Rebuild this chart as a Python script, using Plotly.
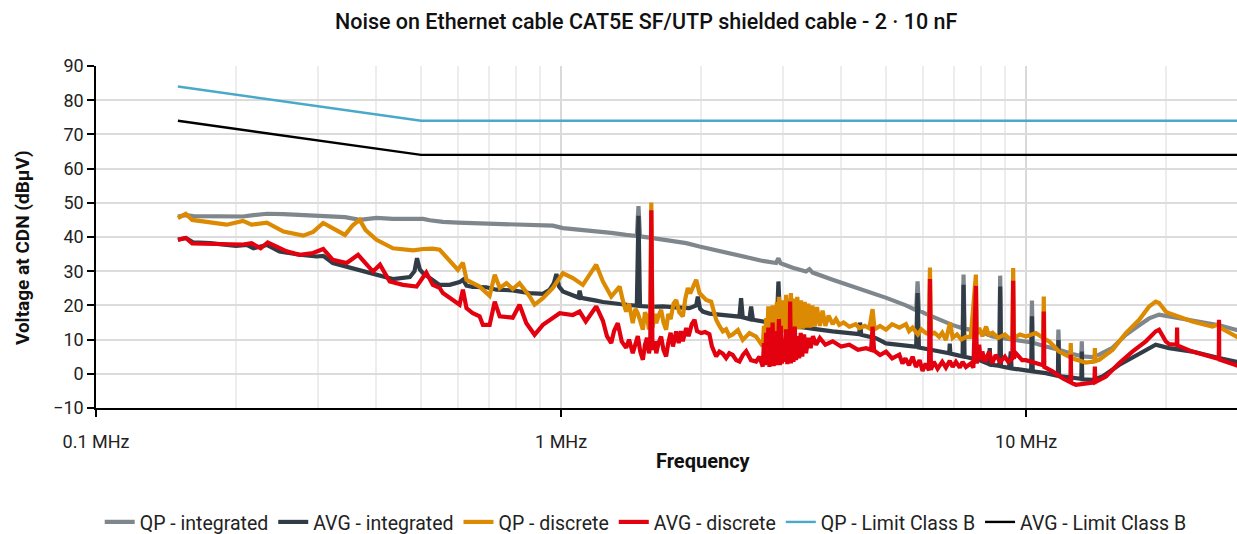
import plotly.graph_objects as go

# ---- measured spectra (frequency in MHz, level in dBµV) ----
qp_int_mhz = [0.150, 0.156, 0.162, 0.176, 0.191, 0.207, 0.218, 0.233, 0.253, 0.279, 0.308, 0.343,
              0.369, 0.401, 0.435, 0.473, 0.505, 0.522, 0.557, 0.600, 0.668, 0.702, 0.763, 0.842,
              0.914, 0.960, 1.009, 1.096, 1.190, 1.282, 1.380, 1.455, 1.467, 1.478, 1.549, 1.641,
              1.768, 1.858, 1.984, 2.102, 2.264, 2.418, 2.562, 2.714, 2.900, 2.933, 2.965, 3.148,
              3.363, 3.420, 3.475, 3.836, 4.024, 4.378, 5.003, 5.515, 5.800, 5.841, 5.880, 6.089,
              6.721, 6.934, 7.300, 7.334, 7.370, 7.925, 8.464, 8.760, 8.792, 8.830, 9.377, 9.986,
              10.25, 10.29, 10.33, 11.02, 11.70, 11.73, 11.77, 12.57, 13.14, 13.17, 13.20, 13.88,
              14.35, 15.33, 16.38, 17.50, 18.38, 19.31, 20.29, 21.11, 22.77, 24.73, 26.00, 28.22, 28.60]
qp_int_dbuv = [46.0, 46.4, 46.1, 46.0, 46.2, 46.0, 46.4, 46.8, 46.7, 46.4, 46.3, 45.8,
               45.0, 45.6, 45.3, 45.4, 45.3, 44.9, 44.4, 44.2, 44.0, 44.1, 43.8, 43.7,
               43.6, 43.3, 42.6, 42.2, 41.7, 41.2, 40.6, 40.3, 49.0, 40.2, 39.8, 39.3,
               38.5, 38.2, 37.2, 36.5, 35.3, 34.6, 33.8, 33.0, 32.4, 33.8, 32.3, 31.0,
               29.9, 30.6, 29.6, 27.5, 26.6, 24.8, 22.2, 20.0, 18.6, 27.0, 18.5, 17.5,
               15.0, 14.3, 13.3, 29.0, 13.2, 12.4, 10.9, 10.6, 28.7, 10.5, 10.0, 9.5,
               9.2, 21.4, 9.1, 8.0, 7.1, 12.9, 7.0, 5.8, 5.2, 9.5, 5.1, 4.9,
               5.6, 7.6, 11.4, 14.2, 16.2, 17.3, 16.8, 16.3, 15.6, 14.8, 14.2, 12.9, 12.7]

avg_int_mhz = [0.150, 0.156, 0.162, 0.176, 0.200, 0.211, 0.218, 0.233, 0.248, 0.274, 0.298, 0.308,
               0.323, 0.357, 0.401, 0.435, 0.473, 0.484, 0.490, 0.497, 0.505, 0.530, 0.548, 0.576,
               0.605, 0.615, 0.626, 0.646, 0.691, 0.726, 0.787, 0.856, 0.914, 0.945, 0.965, 0.977,
               0.990, 1.009, 1.060, 1.090, 1.096, 1.105, 1.190, 1.230, 1.336, 1.426, 1.455, 1.467,
               1.478, 1.563, 1.655, 1.768, 1.888, 1.952, 1.968, 1.990, 2.017, 2.084, 2.190, 2.339,
               2.418, 2.438, 2.458, 2.541, 2.562, 2.585, 2.714, 2.829, 2.910, 2.933, 2.960, 3.148,
               3.363, 3.592, 3.836, 4.166, 4.378, 4.393, 4.420, 4.675, 4.755, 4.996, 5.336, 5.698,
               5.800, 5.841, 5.880, 6.291, 6.721, 6.832, 6.850, 6.870, 7.180, 7.300, 7.334, 7.370,
               7.925, 8.192, 8.327, 8.350, 8.380, 8.760, 8.792, 8.830, 9.192, 9.270, 9.300, 9.986,
               10.25, 10.29, 10.33, 11.02, 11.70, 11.73, 11.77, 12.37, 13.14, 13.17, 13.20, 13.88,
               14.59, 15.84, 17.50, 18.99, 20.29, 22.77, 25.98, 28.22, 28.60]
avg_int_dbuv = [39.2, 39.7, 38.4, 38.2, 37.4, 37.7, 36.7, 37.7, 35.8, 34.8, 34.3, 34.5,
                32.4, 30.9, 29.2, 27.7, 28.3, 30.0, 33.8, 30.5, 29.4, 27.5, 26.0, 26.0,
                26.8, 27.5, 25.8, 25.4, 25.3, 24.6, 24.4, 23.6, 23.4, 24.6, 26.5, 29.2,
                25.5, 24.1, 23.0, 22.3, 24.3, 22.2, 21.4, 21.0, 20.4, 20.0, 19.9, 46.2,
                19.8, 19.6, 19.7, 19.4, 19.2, 20.0, 22.6, 19.0, 18.2, 17.6, 17.3, 16.9,
                16.7, 22.1, 16.5, 16.0, 19.7, 15.8, 15.2, 14.8, 14.6, 27.0, 14.4, 14.0,
                13.3, 12.9, 12.4, 11.9, 11.6, 15.0, 11.4, 10.6, 10.4, 8.9, 8.3, 8.0,
                7.9, 23.6, 7.7, 7.0, 6.3, 6.0, 8.8, 5.9, 5.3, 5.1, 26.0, 5.0,
                4.0, 3.0, 2.8, 7.5, 2.7, 2.3, 25.5, 2.2, 1.7, 6.5, 1.6, 1.0,
                0.8, 16.8, 0.7, 0.2, -0.6, 9.9, -0.7, -1.0, -1.5, 6.5, -1.6, -1.8,
                -0.8, 2.6, 6.0, 8.5, 7.5, 6.5, 4.6, 3.6, 3.4]

qp_disc_mhz = [0.150, 0.156, 0.161, 0.176, 0.191, 0.207, 0.216, 0.233, 0.253, 0.279, 0.293, 0.308,
               0.323, 0.343, 0.357, 0.369, 0.380, 0.401, 0.435, 0.481, 0.505, 0.530, 0.548, 0.576,
               0.600, 0.615, 0.626, 0.668, 0.702, 0.720, 0.738, 0.763, 0.787, 0.814, 0.856, 0.877,
               0.914, 0.960, 1.009, 1.060, 1.114, 1.190, 1.230, 1.282, 1.336, 1.360, 1.380, 1.400,
               1.426, 1.445, 1.462, 1.480, 1.499, 1.515, 1.530, 1.545, 1.555, 1.563, 1.572, 1.590,
               1.602, 1.620, 1.641, 1.660, 1.682, 1.700, 1.720, 1.745, 1.768, 1.795, 1.827, 1.850,
               1.873, 1.895, 1.919, 1.952, 1.984, 2.051, 2.102, 2.155, 2.190, 2.227, 2.264, 2.300,
               2.339, 2.400, 2.458, 2.541, 2.626, 2.714, 2.730, 2.745, 2.760, 2.775, 2.790, 2.805,
               2.820, 2.835, 2.850, 2.865, 2.880, 2.895, 2.910, 2.925, 2.940, 2.955, 2.970, 2.985,
               3.000, 3.020, 3.047, 3.065, 3.085, 3.100, 3.120, 3.140, 3.165, 3.190, 3.220, 3.250,
               3.280, 3.310, 3.340, 3.370, 3.400, 3.430, 3.470, 3.510, 3.550, 3.600, 3.650, 3.700,
               3.760, 3.836, 3.900, 3.965, 4.050, 4.166, 4.300, 4.378, 4.500, 4.600, 4.675, 4.720,
               4.850, 4.996, 5.150, 5.336, 5.515, 5.600, 5.698, 5.850, 5.950, 6.089, 6.180, 6.210,
               6.240, 6.350, 6.500, 6.600, 6.721, 6.860, 6.950, 7.100, 7.250, 7.421, 7.600, 7.797,
               7.830, 7.925, 8.050, 8.200, 8.300, 8.464, 8.700, 9.000, 9.192, 9.340, 9.377, 9.410,
               9.700, 9.986, 10.49, 10.88, 10.91, 10.94, 11.20, 11.77, 12.45, 12.47, 12.50, 13.43,
               14.02, 14.05, 14.08, 14.35, 15.33, 16.38, 17.50, 18.38, 18.99, 19.31, 19.96, 20.29,
               22.77, 25.13, 25.98, 26.02, 28.22, 28.60]
qp_disc_dbuv = [45.5, 46.8, 45.0, 44.3, 43.6, 44.7, 43.6, 44.2, 41.6, 40.4, 41.5, 44.1,
                42.5, 40.6, 43.5, 45.0, 42.0, 39.2, 36.7, 36.1, 36.5, 36.6, 36.3, 32.8,
                30.4, 32.5, 27.5, 25.5, 22.8, 29.0, 25.1, 26.5, 24.8, 26.5, 22.6, 20.2,
                22.1, 25.1, 29.4, 28.0, 26.0, 31.9, 27.0, 22.6, 25.5, 21.0, 18.2, 20.5,
                14.8, 19.0, 17.7, 15.5, 12.9, 18.0, 16.7, 13.0, 14.5, 50.1, 13.5, 17.5,
                14.8, 17.0, 18.7, 15.0, 12.9, 17.5, 16.0, 20.5, 21.6, 18.0, 16.8, 22.0,
                25.1, 23.5, 25.5, 27.5, 23.6, 21.6, 21.1, 15.8, 14.0, 12.4, 13.0, 11.0,
                11.5, 12.8, 9.9, 11.9, 10.9, 8.0, 14.0, 10.0, 16.3, 10.5, 19.7, 11.0,
                17.0, 11.5, 20.0, 11.0, 18.0, 11.5, 21.0, 12.0, 22.5, 11.5, 20.0, 12.0,
                21.5, 12.0, 23.1, 12.5, 22.0, 12.5, 23.6, 12.8, 22.0, 13.0, 22.5, 13.0,
                21.5, 13.2, 21.0, 13.5, 20.5, 13.5, 20.0, 13.8, 19.5, 14.0, 18.5, 14.0,
                17.0, 14.5, 16.0, 14.3, 15.0, 13.8, 14.5, 13.4, 14.0, 13.3, 18.9, 13.0,
                14.0, 12.9, 14.5, 13.5, 14.5, 12.5, 13.5, 11.5, 13.0, 11.9, 11.6, 31.1,
                11.5, 12.0, 10.8, 12.0, 9.9, 14.9, 10.5, 11.5, 10.0, 10.8, 10.8, 29.0,
                11.5, 13.4, 11.0, 13.8, 11.5, 12.0, 10.5, 11.5, 10.4, 10.4, 30.9, 10.5,
                11.5, 10.9, 11.9, 10.5, 22.6, 10.2, 9.5, 6.5, 4.8, 9.0, 4.6, 3.3,
                3.6, 7.5, 3.7, 4.1, 7.0, 11.9, 15.8, 19.7, 21.1, 20.7, 18.2, 17.7,
                15.3, 13.8, 14.5, 13.6, 10.9, 10.6]

avg_disc_mhz = [0.150, 0.156, 0.161, 0.176, 0.207, 0.216, 0.226, 0.234, 0.257, 0.274, 0.293, 0.308,
                0.323, 0.346, 0.366, 0.394, 0.408, 0.428, 0.457, 0.489, 0.513, 0.530, 0.548, 0.557,
                0.605, 0.615, 0.626, 0.646, 0.668, 0.679, 0.702, 0.720, 0.738, 0.787, 0.814, 0.842,
                0.877, 0.914, 0.945, 0.993, 1.060, 1.096, 1.130, 1.190, 1.230, 1.255, 1.282, 1.300,
                1.324, 1.350, 1.380, 1.400, 1.426, 1.445, 1.462, 1.480, 1.499, 1.515, 1.530, 1.545,
                1.555, 1.563, 1.572, 1.590, 1.602, 1.620, 1.641, 1.660, 1.682, 1.700, 1.720, 1.740,
                1.768, 1.790, 1.810, 1.827, 1.858, 1.880, 1.910, 1.936, 1.960, 2.001, 2.040, 2.084,
                2.110, 2.155, 2.190, 2.227, 2.264, 2.300, 2.339, 2.380, 2.418, 2.460, 2.500, 2.560,
                2.626, 2.670, 2.714, 2.730, 2.745, 2.760, 2.775, 2.790, 2.805, 2.820, 2.835, 2.850,
                2.865, 2.880, 2.895, 2.910, 2.925, 2.940, 2.955, 2.970, 2.985, 3.000, 3.020, 3.047,
                3.065, 3.085, 3.100, 3.108, 3.120, 3.140, 3.160, 3.180, 3.200, 3.225, 3.250, 3.275,
                3.300, 3.330, 3.363, 3.400, 3.440, 3.480, 3.534, 3.600, 3.700, 3.836, 4.000, 4.166,
                4.350, 4.526, 4.640, 4.675, 4.710, 4.850, 4.996, 5.150, 5.336, 5.420, 5.500, 5.600,
                5.698, 5.794, 5.900, 5.987, 6.080, 6.180, 6.210, 6.240, 6.330, 6.450, 6.600, 6.721,
                6.850, 6.950, 7.063, 7.200, 7.300, 7.421, 7.600, 7.700, 7.797, 7.830, 7.880, 7.925,
                7.980, 8.050, 8.150, 8.250, 8.327, 8.450, 8.600, 8.800, 9.000, 9.150, 9.340, 9.377,
                9.410, 9.500, 9.660, 9.800, 9.986, 10.49, 10.88, 10.91, 10.94, 11.39, 11.97, 12.45,
                12.47, 12.50, 12.79, 13.88, 14.02, 14.05, 14.08, 14.84, 15.84, 16.92, 18.08, 18.99,
                19.31, 19.96, 20.29, 21.08, 21.11, 21.14, 22.77, 25.13, 25.95, 25.98, 26.01, 28.22,
                28.60]
avg_disc_dbuv = [39.2, 39.7, 38.1, 38.0, 37.8, 38.2, 36.7, 38.4, 35.8, 34.8, 35.3, 36.5,
                 33.3, 32.4, 34.8, 29.9, 31.9, 27.0, 26.0, 25.5, 29.6, 26.0, 25.1, 23.6,
                 20.2, 24.6, 19.2, 17.7, 16.8, 14.3, 14.3, 21.1, 16.8, 16.4, 20.2, 14.8,
                 11.4, 14.3, 15.7, 17.7, 17.2, 18.2, 15.3, 19.7, 15.5, 11.0, 9.0, 12.5,
                 14.8, 9.5, 7.6, 10.0, 6.0, 9.0, 11.0, 6.5, 4.1, 8.5, 10.5, 6.0,
                 8.0, 47.8, 7.0, 9.5, 6.0, 9.0, 10.9, 7.0, 5.1, 9.0, 12.0, 8.0,
                 12.4, 9.0, 12.5, 9.5, 13.4, 11.0, 14.5, 15.8, 12.5, 11.9, 12.2, 11.6,
                 8.0, 5.1, 6.5, 5.9, 4.6, 6.0, 5.5, 4.0, 3.6, 5.5, 6.6, 4.0,
                 3.6, 5.0, 2.1, 9.0, 2.5, 12.0, 3.0, 13.5, 2.0, 10.0, 3.0, 15.0,
                 2.2, 11.0, 2.5, 12.5, 3.0, 16.0, 2.5, 14.0, 3.0, 10.0, 3.5, 13.0,
                 2.8, 12.0, 4.0, 21.1, 3.0, 12.5, 3.5, 13.8, 4.0, 11.0, 4.5, 12.0,
                 5.0, 11.5, 6.0, 10.5, 7.5, 11.0, 8.5, 10.5, 8.5, 9.5, 8.0, 8.5,
                 7.0, 7.5, 7.0, 13.8, 6.8, 5.5, 6.5, 4.5, 5.6, 3.0, 4.5, 2.5,
                 5.0, 2.0, 4.0, 0.8, 3.0, 1.0, 27.7, 1.2, 3.5, 1.5, 3.5, 1.8,
                 3.8, 2.0, 3.5, 1.8, 3.5, 2.0, 3.0, 1.8, 25.7, 3.0, 6.0, 8.5,
                 4.0, 6.5, 3.5, 5.0, 6.5, 3.0, 5.5, 3.5, 5.0, 3.5, 4.5, 27.2,
                 4.5, 6.0, 5.1, 4.0, 4.0, 3.0, 2.5, 18.2, 2.0, 0.7, -1.3, -2.5,
                 5.6, -2.6, -3.2, -2.7, -2.5, 2.1, -2.4, -0.8, 3.1, 6.5, 9.5, 12.4,
                 12.9, 9.5, 8.7, 8.5, 13.5, 8.3, 6.5, 4.6, 4.3, 15.8, 4.2, 2.6,
                 2.3]

# ---- CISPR 32 class B conducted limits ----
limit_mhz = [0.15, 0.5, 30.0]
qp_limit_dbuv = [84, 74, 74]
avg_limit_dbuv = [74, 64, 64]

# ---- axis labelling ----
x_tick_vals = [0.1, 1, 10]
x_tick_text = ["0.1 MHz", "1 MHz", "10 MHz"]
x_minor_vals = [0.2, 0.3, 0.4, 0.5, 0.6, 0.7, 0.8, 0.9,
                2, 3, 4, 5, 6, 7, 8, 9, 20, 30]
y_tick_vals = [-10, 0, 10, 20, 30, 40, 50, 60, 70, 80, 90]

FONT = "Roboto, Arial, sans-serif"

series = [
    ("QP - integrated", qp_int_mhz, qp_int_dbuv, "#7f878d", 4.2),
    ("AVG - integrated", avg_int_mhz, avg_int_dbuv, "#313c46", 4.2),
    ("QP - discrete", qp_disc_mhz, qp_disc_dbuv, "#dc8a02", 4.2),
    ("AVG - discrete", avg_disc_mhz, avg_disc_dbuv, "#e3000f", 4.2),
    ("QP - Limit Class B", limit_mhz, qp_limit_dbuv, "#4aa9c9", 2.4),
    ("AVG - Limit Class B", limit_mhz, avg_limit_dbuv, "#000000", 2.4),
]

fig = go.Figure()
for name, fx, fy, color, width in series:
    fig.add_trace(go.Scatter(
        x=fx, y=fy, name=name, mode="lines",
        line=dict(color=color, width=width),
    ))

fig.update_layout(
    width=1237, height=534,
    margin=dict(l=96, r=0, t=66, b=126),
    paper_bgcolor="white", plot_bgcolor="white",
    font=dict(family=FONT, color="#1a1a1a", size=17),
    showlegend=True,
    legend=dict(
        orientation="h", xref="container", yref="container",
        x=0.522, y=0.022, xanchor="center", yanchor="middle",
        font=dict(size=19.5, color="#222222", family=FONT),
        itemwidth=30,
    ),
    annotations=[
        dict(text="Noise on Ethernet cable CAT5E SF/UTP shielded cable - 2 · 10 nF",
             xref="paper", yref="paper", x=0.482, y=1.1287,
             xanchor="center", yanchor="middle", showarrow=False,
             font=dict(size=21.5, color="#111111", family=FONT, weight=500)),
        dict(text="<b>Frequency</b>", xref="paper", yref="paper",
             x=0.532, y=-0.155, xanchor="center", yanchor="middle", showarrow=False,
             font=dict(size=20, color="#111111", family=FONT)),
        dict(text="<b>Voltage at CDN (dBµV)</b>", xref="paper", yref="paper",
             x=-0.065, y=0.47, xanchor="center", yanchor="middle", showarrow=False,
             textangle=-90, font=dict(size=19, color="#111111", family=FONT)),
    ],
)

fig.update_xaxes(
    type="log", range=[-1, 1.4533],
    tickmode="array", tickvals=x_tick_vals, ticktext=x_tick_text,
    ticks="outside", ticklen=7, tickwidth=1.5, tickcolor="#000000",
    ticklabelstandoff=10,
    tickfont=dict(size=18, color="#222222"),
    showline=True, linecolor="#000000", linewidth=1.5,
    showgrid=True, gridcolor="#d9d9d9", gridwidth=1.5,
    minor=dict(tickmode="array", tickvals=x_minor_vals, showgrid=True,
               gridcolor="#ededed", gridwidth=1.5, ticks=""),
    zeroline=False,
)
fig.update_yaxes(
    range=[-10, 90], tickmode="array", tickvals=y_tick_vals,
    ticks="outside", ticklen=7, tickwidth=1.5, tickcolor="#000000",
    tickfont=dict(size=18, color="#222222"),
    showline=True, linecolor="#000000", linewidth=1.5,
    showgrid=True, gridcolor="#dcdcdc", gridwidth=1.5,
    zeroline=False,
)

fig.write_html("out.html")
